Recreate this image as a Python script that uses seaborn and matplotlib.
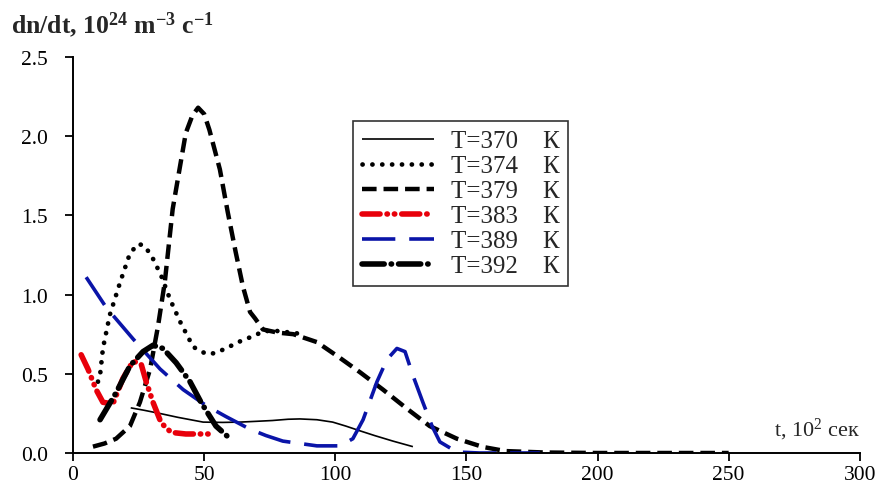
import numpy as np
import pandas as pd
import matplotlib
matplotlib.use("Agg")
import matplotlib.pyplot as plt
import seaborn as sns

# Nucleation rate curves dn/dt(t) at several temperatures
t_370 = [22, 27, 33, 40, 49.6, 57, 63.7, 70, 76, 82, 86.5, 93, 99, 104, 109.4, 115, 122, 129.6]
r_370 = [0.285, 0.27, 0.25, 0.225, 0.195, 0.193, 0.195, 0.2, 0.205, 0.213, 0.215, 0.21, 0.195, 0.17, 0.14, 0.11, 0.075, 0.04]

t_374 = [9.5, 10.3, 11.4, 14, 18, 21.7, 24.8, 27, 29.8, 33.6, 37, 40.8, 45.8, 50.8, 54, 58.3, 63, 67.5, 73, 78, 83, 88]
r_374 = [0.45, 0.49, 0.66, 0.87, 1.08, 1.26, 1.32, 1.31, 1.25, 1.12, 0.97, 0.83, 0.67, 0.625, 0.63, 0.66, 0.70, 0.73, 0.77, 0.77, 0.76, 0.75]

t_379 = [7.6, 12, 16.4, 21.7, 25.5, 29.4, 32.4, 35, 38, 40.8, 43, 45.5, 47.7, 50, 52, 56, 59, 62, 64.8, 67.5, 69.4,
         72.4, 78, 84, 93, 101.8, 109.4, 118.2, 127.3, 136, 146.4, 156.3, 165, 180, 200, 225, 250]
r_379 = [0.04, 0.06, 0.09, 0.17, 0.32, 0.53, 0.80, 1.08, 1.54, 1.81, 2.02, 2.13, 2.18, 2.14, 2.04, 1.79, 1.52, 1.27, 1.05, 0.89, 0.85,
         0.78, 0.76, 0.75, 0.70, 0.60, 0.51, 0.40, 0.28, 0.17, 0.09, 0.038, 0.012, 0.003, 0.0, 0.0, 0.0]

t_383 = [3.1, 5.7, 8.8, 11.4, 15.2, 19, 22.9, 26, 27.9, 30.5, 33.6, 37.4, 43, 53.4]
r_383 = [0.62, 0.53, 0.40, 0.32, 0.31, 0.47, 0.58, 0.56, 0.45, 0.32, 0.19, 0.13, 0.12, 0.12]

t_389 = [5, 12.6, 22.9, 33.2, 42, 50.7, 58.3, 67.5, 73.6, 80, 93, 101.8, 106.7, 110.6, 115.9, 119.7, 123.5, 126.6,
         129.6, 133.4, 136.9, 139.9, 146.4, 155, 165, 178]
r_389 = [1.11, 0.92, 0.72, 0.53, 0.40, 0.30, 0.23, 0.15, 0.11, 0.075, 0.045, 0.045, 0.09, 0.21, 0.45, 0.59, 0.66, 0.64,
         0.49, 0.32, 0.17, 0.07, 0.006, 0.0, 0.0, 0.0]

t_392 = [10.3, 16.4, 21.7, 26.7, 30.5, 34.3, 39.3, 44.6, 48.8, 54.5, 59.9]
r_392 = [0.21, 0.38, 0.55, 0.64, 0.68, 0.66, 0.57, 0.45, 0.32, 0.17, 0.09]

labels = ["T=370    К", "T=374    К", "T=379    К", "T=383    К", "T=389    К", "T=392    К"]
times = [t_370, t_374, t_379, t_383, t_389, t_392]
rates = [r_370, r_374, r_379, r_383, r_389, r_392]

colors = ["black", "black", "black", "#e8000b", "#0a14a8", "black"]
widths = [1.2, 3.4, 3.2, 4.0, 2.6, 4.0]
styles = [
    "-",
    (0, (0.1, 7.0)),
    (0, (10.5, 5)),
    (0, (13, 5, 0.3, 5, 0.3, 5)),
    (0, (24, 10)),
    (0, (16, 5, 0.3, 5)),
]
caps = ["butt", "round", "butt", "round", "butt", "round"]

frames = []
for lab, tt, rr in zip(labels, times, rates):
    frames.append(pd.DataFrame({"t": tt, "rate": rr, "T": lab}))
df = pd.concat(frames, ignore_index=True)

sns.set_style("ticks")
plt.rcParams["font.family"] = ["Liberation Serif", "DejaVu Serif"]
plt.rcParams["mathtext.fontset"] = "custom"
plt.rcParams["mathtext.rm"] = "Liberation Serif"
plt.rcParams["mathtext.default"] = "regular"
plt.rcParams["lines.scale_dashes"] = False

fig = plt.figure(figsize=(8.82, 4.89), dpi=100)
ax = fig.add_axes([0.0828, 0.0716, 0.892, 0.8098])

for lab, col, lw, ls, cap in zip(labels, colors, widths, styles, caps):
    sub = df[df["T"] == lab]
    sns.lineplot(data=sub, x="t", y="rate", ax=ax, color=col, linewidth=lw,
                 linestyle=ls, label=lab, sort=False, estimator=None,
                 dash_capstyle=cap, solid_capstyle="butt")

ax.set_xlim(0, 300)
ax.set_ylim(0, 2.5)
ax.set_xticks(np.arange(0, 301, 50))
ax.set_yticks(np.arange(0, 2.51, 0.5))
ax.set_yticklabels([f"{v:.1f}" for v in np.arange(0, 2.51, 0.5)])
ax.set_xlabel("")
ax.set_ylabel("")
ax.tick_params(labelsize=15.5, length=6, width=1.3, colors="black", direction="out")
ax.tick_params(axis="y", pad=12)
ax.tick_params(axis="x", pad=3)
for side in ["top", "right"]:
    ax.spines[side].set_visible(False)
for side in ["left", "bottom"]:
    ax.spines[side].set_linewidth(1.4)
    ax.spines[side].set_color("black")
ax.spines["left"].set_bounds(0, 2.5)
ax.spines["bottom"].set_bounds(0, 300)
ax.margins(0)

leg = ax.legend(loc="upper left", bbox_to_anchor=(0.356, 0.838), fontsize=18,
                frameon=True, fancybox=False, edgecolor="black", handlelength=2.9,
                handletextpad=0.65, labelspacing=0.1, borderpad=0.35, borderaxespad=0)
leg.get_frame().set_linewidth(1.2)

fig.text(0.013, 0.948, r"dn/dt, 10$^{24}$ m$^{-3}$ c$^{-1}$", fontsize=18.5,
         fontweight="bold", ha="left", va="center")
ax.text(300, 0.07, r"t, 10$^{2}$ сек", fontsize=16, ha="right", va="bottom")

fig.savefig("out.png", dpi=100)
